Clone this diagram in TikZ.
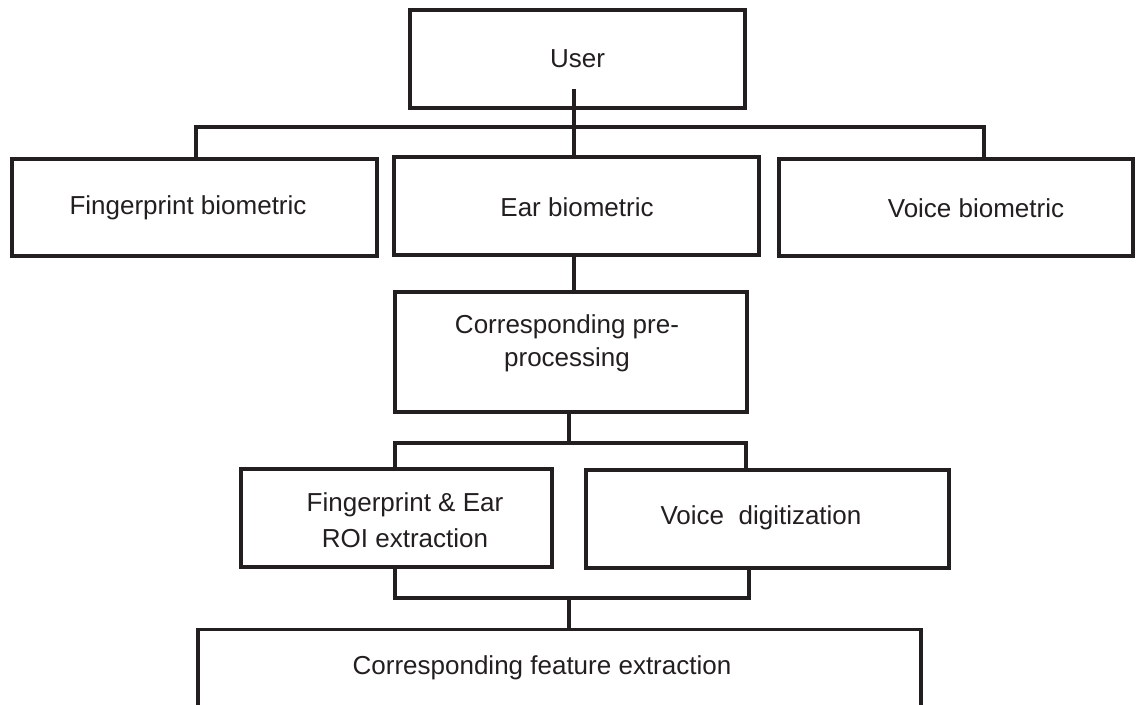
\documentclass[tikz,border=0pt]{standalone}
\usepackage{fontspec}
\setmainfont{Liberation Sans}
\definecolor{ink}{HTML}{231F20}
\begin{document}
\begin{tikzpicture}[x=0.75pt,y=-0.75pt,
  every node/.style={font=\fontsize{19.5}{27}\selectfont, text=ink},
  blk/.style={draw=ink, line width=2.6pt, rectangle, inner sep=0pt, align=center},
  wire/.style={draw=ink, line width=2.4pt, line cap=rect, line join=miter}]
  \clip (0,0) rectangle (1136,704);
  \fill[white] (0,0) rectangle (1136,704);

  % top level
  \node[blk, minimum width=251.25pt, minimum height=73.5pt] (user) at (577.5,59) {User};

  % biometric sources
  \node[blk, minimum width=273.75pt, minimum height=72.75pt] (fp) at (194.5,207.5) {};
  \node at (188,208) {Fingerprint biometric};
  \node[blk, minimum width=273.75pt, minimum height=73.5pt] (ear) at (576.5,206) {};
  \node at (577,207) {Ear biometric};
  \node[blk, minimum width=265.5pt, minimum height=72.75pt] (voice) at (956,207.5) {};
  \node at (976,208) {Voice biometric};

  % pre-processing
  \node[blk, minimum width=264pt, minimum height=90pt] (pre) at (571,352) {};
  \node[font=\fontsize{19.5}{24.75}\selectfont, align=center] at (567,343.5) {Corresponding pre-\\processing};

  % second stage
  \node[blk, minimum width=233.25pt, minimum height=73.5pt] (roi) at (396.5,518) {};
  \node[align=center] at (405,520) {Fingerprint \& Ear\\ROI extraction};
  \node[blk, minimum width=272.25pt, minimum height=73.5pt] (vd) at (767.5,519) {};
  \node at (761,518) {Voice\ \ digitization};

  % feature extraction (runs past the lower edge)
  \node[blk, minimum width=542.25pt, minimum height=120pt, anchor=north] (feat) at (559.5,628) {};
  \node at (542,668) {Corresponding feature extraction};

  % connectors
  \coordinate (u0) at (574,91);
  \coordinate (b1l) at (196,127);
  \coordinate (b1r) at (984,127);
  \coordinate (p0) at (569,443);
  \coordinate (b2l) at (395,443);
  \coordinate (b2r) at (746,443);
  \coordinate (b3l) at (395,598);
  \coordinate (b3r) at (749,598);
  \coordinate (b3m) at (569,598);

  \draw[wire] (u0) -- (u0 |- ear.north);
  \draw[wire] (fp.north -| b1l) -- (b1l) -- (b1r) -- (voice.north -| b1r);
  \draw[wire] (ear.south -| u0) -- (pre.north -| u0);
  \draw[wire] (pre.south -| p0) -- (p0);
  \draw[wire] (roi.north -| b2l) -- (b2l) -- (b2r) -- (vd.north -| b2r);
  \draw[wire] (roi.south -| b3l) -- (b3l) -- (b3r) -- (vd.south -| b3r);
  \draw[wire] (b3m) -- (feat.north -| b3m);
\end{tikzpicture}
\end{document}
